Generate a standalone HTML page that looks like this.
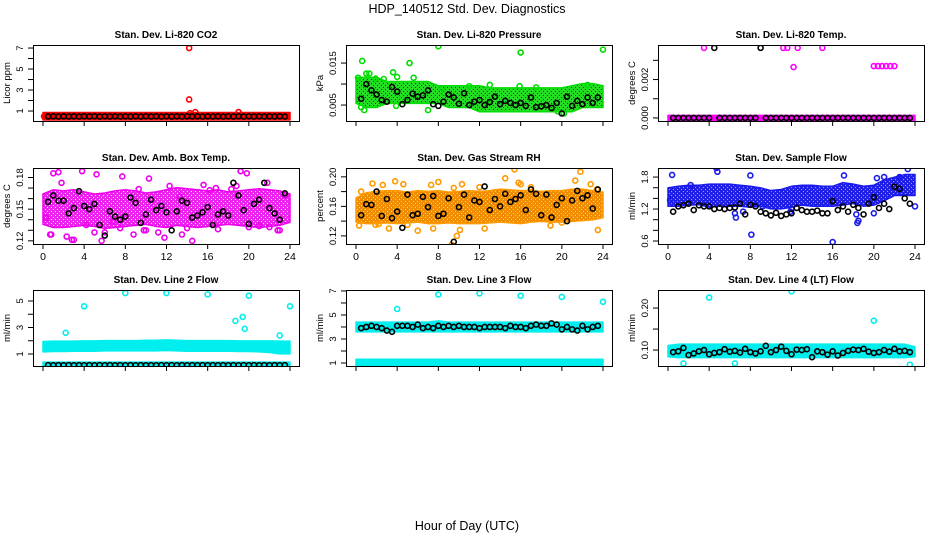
<!DOCTYPE html>
<html><head><meta charset="utf-8"><style>
body{margin:0;background:#fff;}
svg{display:block;font-family:"Liberation Sans",sans-serif;}
</style></head><body>
<svg id="chart" width="936" height="540" viewBox="0 0 936 540" xmlns="http://www.w3.org/2000/svg">
<rect width="936" height="540" fill="#fff"/>
<text x="467" y="13" text-anchor="middle" font-size="12.5">HDP_140512  Std. Dev. Diagnostics</text>
<text x="467" y="530" text-anchor="middle" font-size="12.5">Hour of Day (UTC)</text>
</svg>
<script>
// ---- shared categories ----
const envHours = [0,1,2,3,4,5,6,7,8,9,10,11,12,13,14,15,16,17,18,19,20,21,22,23,24];
const blackHours = [0.5,1,1.5,2,2.5,3,3.5,4,4.5,5,5.5,6,6.5,7,7.5,8,8.5,9,9.5,10,10.5,11,11.5,12,12.5,13,13.5,14,14.5,15,15.5,16,16.5,17,17.5,18,18.5,19,19.5,20,20.5,21,21.5,22,22.5,23,23.5];
const xTicks = [0,4,8,12,16,20,24];

// ---- P1 CO2 ----
const p1Lo = [0.38,0.38,0.38,0.38,0.38,0.38,0.38,0.38,0.38,0.38,0.38,0.38,0.38,0.38,0.38,0.38,0.38,0.38,0.38,0.38,0.38,0.38,0.38,0.38,0.38];
const p1Hi = [0.62,0.62,0.62,0.62,0.62,0.62,0.62,0.62,0.62,0.62,0.62,0.62,0.62,0.62,0.62,0.62,0.62,0.62,0.62,0.62,0.62,0.62,0.62,0.62,0.62];
const p1OutX = [14.2,14.2,14.3,14.8,19.0,0.1];
const p1OutY = [7.0,2.1,0.8,0.9,0.9,0.5];
const p1Black = [0.48,0.5,0.47,0.5,0.48,0.5,0.47,0.5,0.48,0.5,0.47,0.5,0.48,0.5,0.47,0.5,0.48,0.5,0.47,0.5,0.48,0.5,0.47,0.5,0.48,0.5,0.47,0.5,0.48,0.5,0.47,0.5,0.48,0.5,0.47,0.5,0.48,0.5,0.47,0.5,0.48,0.5,0.47,0.5,0.48,0.5,0.47];

// ---- P2 Pressure ----
const p2Lo = [0.006,0.005,0.005,0.006,0.006,0.006,0.006,0.006,0.006,0.005,0.005,0.005,0.004,0.004,0.004,0.004,0.004,0.004,0.004,0.004,0.004,0.004,0.005,0.005,0.005];
const p2Hi = [0.011,0.011,0.011,0.010,0.010,0.010,0.010,0.010,0.009,0.009,0.009,0.009,0.009,0.0085,0.0085,0.0085,0.0085,0.0085,0.0085,0.0085,0.0085,0.009,0.0095,0.0095,0.009];
const p2OutX = [0.2,0.6,1.0,1.3,0.8,3.6,4.0,5.2,5.6,8.0,16.0,24.0,15.9,22.5,0.5,7.0,8.4,3.9,20.2,19.6,1.9,2.7,11.0,13.0,17.5];
const p2OutY = [0.0115,0.0155,0.0125,0.0125,0.0038,0.0128,0.0117,0.015,0.0115,0.019,0.0175,0.0182,0.0095,0.0098,0.0045,0.0038,0.009,0.0048,0.003,0.0035,0.0113,0.0112,0.0095,0.0098,0.0092];
const p2Black = [0.0065,0.010,0.0085,0.0075,0.0062,0.0058,0.0093,0.0082,0.0052,0.0062,0.0077,0.0070,0.0073,0.0085,0.0052,0.0048,0.0058,0.0075,0.0068,0.0053,0.0078,0.0050,0.0058,0.0062,0.0050,0.0057,0.0070,0.0052,0.0060,0.0055,0.0050,0.0055,0.0048,0.0068,0.0045,0.0047,0.0050,0.0043,0.0055,0.0030,0.0070,0.0048,0.0060,0.0052,0.0068,0.0055,0.0068];

// ---- P3 Li-820 Temp ----
const p3Lo = [0,0,0,0,0,0,0,0,0,0,0,0,0,0,0,0,0,0,0,0,0,0,0,0,0];
const p3Hi = [0,0,0,0,0,0,0,0,0,0,0,0,0,0,0,0,0,0,0,0,0,0,0,0,0];
const p3OutX = [3.5,11.2,11.6,12.6,15.0,12.2,20.0,20.4,20.8,21.2,21.6,22.0];
const p3OutY = [0.00365,0.00365,0.00365,0.00365,0.00365,0.00265,0.0027,0.0027,0.0027,0.0027,0.0027,0.0027];
const p3Black = [0,0,0,0,0,0,0,0,0.00365,0,0,0,0,0,0,0,0,0.00365,0,0,0,0,0,0,0,0,0,0,0,0,0,0,0,0,0,0,0,0,0,0,0,0,0,0,0,0,0];

// ---- P4 Amb Box Temp ----
const p4Lo = [0.138,0.135,0.135,0.136,0.137,0.136,0.134,0.135,0.136,0.137,0.138,0.136,0.135,0.137,0.136,0.135,0.136,0.137,0.138,0.137,0.136,0.135,0.136,0.137,0.140];
const p4Hi = [0.162,0.166,0.165,0.166,0.164,0.162,0.163,0.165,0.166,0.165,0.163,0.164,0.166,0.168,0.167,0.166,0.165,0.166,0.164,0.165,0.166,0.167,0.166,0.165,0.162];
const p4OutX = [0.8,1.0,1.5,3.8,5.2,7.7,9.3,10.3,11.8,15.4,15.6,19.2,19.8,0.7,2.3,4.2,5.0,5.7,6.0,7.5,9.8,10.0,12.3,14.0,14.5,16.2,18.3,20.0,21.0,22.0,23.0,2.8,3.0,6.8,8.8,11.2,13.5,17.0,21.8,22.8,0.3,1.8,13.3,16.8,18.8,23.5];
const p4OutY = [0.126,0.184,0.185,0.186,0.183,0.181,0.169,0.179,0.123,0.191,0.173,0.186,0.184,0.126,0.124,0.135,0.128,0.120,0.128,0.132,0.130,0.130,0.172,0.132,0.120,0.168,0.169,0.133,0.134,0.133,0.130,0.121,0.121,0.138,0.126,0.128,0.126,0.131,0.175,0.130,0.142,0.175,0.162,0.170,0.172,0.163];
const p4Black = [0.157,0.163,0.158,0.158,0.146,0.151,0.167,0.153,0.150,0.155,0.135,0.125,0.148,0.143,0.140,0.143,0.161,0.156,0.137,0.145,0.159,0.149,0.153,0.147,0.130,0.148,0.158,0.156,0.142,0.144,0.147,0.152,0.135,0.145,0.148,0.144,0.175,0.163,0.149,0.136,0.155,0.159,0.175,0.151,0.146,0.140,0.165];

// ---- P5 Gas Stream RH ----
const p5Lo = [0.142,0.140,0.140,0.141,0.140,0.141,0.142,0.140,0.140,0.141,0.140,0.140,0.140,0.141,0.142,0.141,0.140,0.142,0.143,0.142,0.142,0.143,0.144,0.145,0.148];
const p5Hi = [0.168,0.175,0.177,0.178,0.178,0.176,0.178,0.177,0.178,0.176,0.177,0.178,0.177,0.178,0.180,0.179,0.178,0.178,0.177,0.178,0.178,0.180,0.180,0.178,0.176];
const p5OutX = [0.3,1.6,2.6,3.8,4.6,7.3,8.0,9.3,9.5,10.3,12.0,14.5,15.4,15.8,21.8,21.3,22.8,23.5,0.5,1.9,3.2,6.0,7.5,10.1,12.5,16.0,18.9,20.0,23.4,2.2,17.0,9.8,5.0];
const p5OutY = [0.134,0.191,0.189,0.194,0.190,0.189,0.193,0.108,0.185,0.190,0.186,0.198,0.210,0.192,0.207,0.195,0.190,0.128,0.180,0.135,0.130,0.127,0.130,0.128,0.130,0.190,0.134,0.138,0.183,0.136,0.186,0.120,0.135];
const p5Black = [0.148,0.163,0.162,0.180,0.147,0.170,0.144,0.153,0.131,0.176,0.148,0.150,0.173,0.159,0.174,0.147,0.150,0.171,0.112,0.159,0.176,0.145,0.168,0.166,0.187,0.155,0.170,0.160,0.177,0.166,0.170,0.175,0.155,0.183,0.177,0.148,0.176,0.145,0.162,0.171,0.140,0.168,0.181,0.171,0.175,0.157,0.183];

// ---- P6 Sample Flow ----
const p6Lo = [1.30,1.30,1.32,1.33,1.28,1.30,1.30,1.30,1.28,1.30,1.25,1.25,1.28,1.32,1.30,1.30,1.30,1.32,1.35,1.30,1.32,1.40,1.50,1.50,1.50];
const p6Hi = [1.55,1.58,1.60,1.60,1.62,1.62,1.62,1.60,1.58,1.55,1.50,1.52,1.58,1.60,1.60,1.58,1.58,1.65,1.62,1.58,1.60,1.70,1.75,1.80,1.80];
const p6OutX = [0.4,4.7,4.8,8.0,8.1,6.6,6.5,7.3,16.0,17.1,18.3,18.5,18.4,23.3,24.0,21.0,22.5,0.2,2.2,11.9,12.0,20.3,20.0,9.2];
const p6OutY = [1.84,1.97,1.90,1.83,0.72,1.04,1.12,1.15,0.58,1.83,1.10,0.98,0.94,1.95,1.25,1.80,1.80,1.37,1.65,1.15,1.20,1.78,1.12,1.25];
const p6Black = [1.15,1.25,1.27,1.30,1.18,1.27,1.25,1.25,1.20,1.22,1.20,1.22,1.23,1.30,1.10,1.28,1.25,1.15,1.12,1.08,1.13,1.07,1.10,1.12,1.22,1.18,1.15,1.15,1.17,1.12,1.12,1.35,1.18,1.25,1.15,1.28,1.22,1.10,1.30,1.42,1.22,1.30,1.20,1.62,1.58,1.40,1.30];

// ---- P7 Line 2 Flow ----
const p7Lo = [1.35,1.38,1.38,1.40,1.40,1.40,1.42,1.42,1.42,1.42,1.42,1.42,1.45,1.42,1.40,1.40,1.40,1.40,1.40,1.38,1.38,1.35,1.30,1.20,1.20];
const p7Hi = [1.75,1.78,1.78,1.78,1.80,1.80,1.82,1.82,1.82,1.82,1.85,1.85,1.88,1.85,1.82,1.82,1.82,1.82,1.82,1.80,1.80,1.80,1.80,1.78,1.78];
const p7Lo2 = [0.12,0.12,0.12,0.12,0.12,0.12,0.12,0.12,0.12,0.12,0.12,0.12,0.12,0.12,0.12,0.12,0.12,0.12,0.12,0.12,0.12,0.12,0.12,0.12,0.12];
const p7Hi2 = [0.2,0.2,0.2,0.2,0.2,0.2,0.2,0.2,0.2,0.2,0.2,0.2,0.2,0.2,0.2,0.2,0.2,0.2,0.2,0.2,0.2,0.2,0.2,0.2,0.2];
const p7OutX = [2.2,4.0,8.0,12.0,16.0,20.0,18.7,19.4,19.6,23.0,24.0];
const p7OutY = [2.6,4.6,5.6,5.6,5.5,5.4,3.5,3.8,2.9,2.4,4.6];
const p7Black = [0.16,0.15,0.16,0.15,0.16,0.15,0.16,0.15,0.16,0.15,0.16,0.15,0.16,0.15,0.16,0.15,0.16,0.15,0.16,0.15,0.16,0.15,0.16,0.15,0.16,0.15,0.16,0.15,0.16,0.15,0.16,0.15,0.16,0.15,0.16,0.15,0.16,0.15,0.16,0.15,0.16,0.15,0.16,0.15,0.16,0.15,0.16];

// ---- P8 Line 3 Flow ----
const p8Lo = [3.8,3.8,3.8,3.8,3.8,3.8,3.8,3.8,3.8,3.8,3.8,3.8,3.8,3.8,3.8,3.8,3.8,3.8,3.8,3.8,3.8,3.8,3.8,3.8,3.8];
const p8Hi = [4.2,4.2,4.2,4.2,4.2,4.2,4.2,4.2,4.3,4.2,4.2,4.2,4.2,4.2,4.2,4.2,4.2,4.2,4.2,4.2,4.2,4.2,4.2,4.2,4.2];
const p8Lo2 = [0.95,0.95,0.95,0.95,0.95,0.95,0.95,0.95,0.95,0.95,0.95,0.95,0.95,0.95,0.95,0.95,0.95,0.95,0.95,0.95,0.95,0.95,0.95,0.95,0.95];
const p8Hi2 = [1.1,1.1,1.1,1.1,1.1,1.1,1.1,1.1,1.1,1.1,1.1,1.1,1.1,1.1,1.1,1.1,1.1,1.1,1.1,1.1,1.1,1.1,1.1,1.1,1.1];
const p8OutX = [4.0,8.0,12.0,16.0,20.0,24.0];
const p8OutY = [5.5,6.7,6.8,6.6,6.5,6.1];
const p8Black = [3.9,4.0,4.1,4.0,3.9,3.7,3.6,4.1,4.1,4.1,4.0,4.2,3.9,4.0,3.9,4.1,4.0,4.1,4.0,4.1,4.0,4.0,4.0,3.9,4.0,4.0,4.0,4.0,3.9,4.1,4.0,4.0,3.9,4.1,4.2,4.1,4.1,4.3,4.2,3.8,4.0,3.8,3.7,4.1,3.8,4.0,4.1];

// ---- P9 Line 4 (LT) Flow ----
const p9Lo = [0.090,0.088,0.088,0.088,0.088,0.088,0.088,0.088,0.088,0.088,0.088,0.088,0.088,0.088,0.088,0.088,0.088,0.088,0.088,0.088,0.088,0.088,0.088,0.088,0.090];
const p9Hi = [0.105,0.108,0.108,0.108,0.108,0.108,0.108,0.108,0.108,0.108,0.108,0.108,0.108,0.108,0.108,0.108,0.108,0.108,0.108,0.108,0.108,0.108,0.108,0.108,0.102];
const p9OutX = [4.0,12.0,20.0,1.5,6.5,23.5];
const p9OutY = [0.225,0.24,0.17,0.068,0.068,0.065];
const p9Black = [0.095,0.097,0.105,0.088,0.092,0.097,0.100,0.090,0.093,0.095,0.102,0.096,0.098,0.094,0.103,0.095,0.092,0.097,0.110,0.095,0.100,0.108,0.098,0.090,0.101,0.100,0.102,0.083,0.097,0.095,0.089,0.097,0.087,0.093,0.098,0.101,0.100,0.103,0.096,0.093,0.095,0.100,0.096,0.103,0.097,0.098,0.095];

const panels = [
 {name:'co2',title:'Stan. Dev. Li-820 CO2',ylab:'Licor ppm',dom:[0.05,7.29],ticks:[1,2,3,4,5,6,7],labels:['1','','3','','5','','7'],color:'#ff0000',dot:'#ff0000',bg:'#ff0000',bands:[[p1Lo,p1Hi]],ox:p1OutX,oy:p1OutY,black:p1Black,xl:false},
 {name:'pressure',title:'Stan. Dev. Li-820 Pressure',ylab:'kPa',dom:[0.0012,0.0193],ticks:[0.005,0.010,0.015],labels:['0.005','','0.015'],color:'#00dd00',dot:'#064006',bg:'#22dd22',bands:[[p2Lo,p2Hi]],ox:p2OutX,oy:p2OutY,black:p2Black,xl:false},
 {name:'li820-temp',title:'Stan. Dev. Li-820 Temp.',ylab:'degrees C',dom:[-0.00016,0.0038],ticks:[0,0.001,0.002,0.003],labels:['0.000','','0.002',''],color:'#ff00ff',dot:'#ff00ff',bg:'#ff00ff',bands:[[p3Lo,p3Hi]],ox:p3OutX,oy:p3OutY,black:p3Black,xl:false},
 {name:'amb-box-temp',title:'Stan. Dev. Amb. Box Temp.',ylab:'degrees C',dom:[0.117,0.189],ticks:[0.12,0.13,0.14,0.15,0.16,0.17,0.18],labels:['0.12','','','0.15','','','0.18'],color:'#ee00ee',dot:'#ffffff',bg:'#ee22ee',bands:[[p4Lo,p4Hi]],ox:p4OutX,oy:p4OutY,black:p4Black,xl:true},
 {name:'gas-rh',title:'Stan. Dev. Gas Stream RH',ylab:'percent',dom:[0.109,0.212],ticks:[0.12,0.14,0.16,0.18,0.20],labels:['0.12','','0.16','','0.20'],color:'#ff9900',dot:'#ffee00',bg:'#f08c00',bands:[[p5Lo,p5Hi]],ox:p5OutX,oy:p5OutY,black:p5Black,xl:true},
 {name:'sample-flow',title:'Stan. Dev. Sample Flow',ylab:'ml/min',dom:[0.544,1.97],ticks:[0.6,0.8,1.0,1.2,1.4,1.6,1.8],labels:['0.6','','','1.2','','','1.8'],color:'#1a1aee',dot:'#9999ff',bg:'#2020e8',bands:[[p6Lo,p6Hi]],ox:p6OutX,oy:p6OutY,black:p6Black,xl:true},
 {name:'line2-flow',title:'Stan. Dev. Line 2 Flow',ylab:'ml/min',dom:[0.094,5.83],ticks:[1,2,3,4,5],labels:['1','','3','','5'],color:'#00eeee',dot:'#00eeee',bg:'#00eeee',bands:[[p7Lo,p7Hi],[p7Lo2,p7Hi2]],ox:p7OutX,oy:p7OutY,black:p7Black,xl:false},
 {name:'line3-flow',title:'Stan. Dev. Line 3 Flow',ylab:'ml/min',dom:[0.75,7.08],ticks:[1,2,3,4,5,6,7],labels:['1','','3','','5','','7'],color:'#00eeee',dot:'#00eeee',bg:'#00eeee',bands:[[p8Lo,p8Hi],[p8Lo2,p8Hi2]],ox:p8OutX,oy:p8OutY,black:p8Black,xl:false},
 {name:'line4-flow',title:'Stan. Dev. Line 4 (LT) Flow',ylab:'ml/min',dom:[0.062,0.243],ticks:[0.10,0.15,0.20],labels:['0.10','','0.20'],color:'#00eeee',dot:'#00eeee',bg:'#00eeee',bands:[[p9Lo,p9Hi]],ox:p9OutX,oy:p9OutY,black:p9Black,xl:false}
];

const NS='http://www.w3.org/2000/svg';
const svg=document.getElementById('chart');
const defs=document.createElementNS(NS,'defs'); svg.appendChild(defs);
const colLeft=[33,346,658], rowTop=[45,168,290], W=266, H=76;
function mk(tag,attrs,parent){const e=document.createElementNS(NS,tag);for(const k in attrs)e.setAttribute(k,attrs[k]);(parent||svg).appendChild(e);return e;}

panels.forEach((p,i)=>{
  const L=colLeft[i%3], T=rowTop[Math.floor(i/3)];
  const pat=mk('pattern',{id:'pat'+i,width:4,height:4,patternUnits:'userSpaceOnUse'},defs);
  mk('rect',{width:4,height:4,fill:p.bg},pat);
  mk('rect',{x:1,y:1,width:1,height:1,fill:p.dot},pat);
  mk('rect',{x:3,y:3,width:1,height:1,fill:p.dot},pat);
  const g=mk('g',{});
  
  
  const xs=h=>L+10+h*(247/24);
  const ys=v=>T+H-(v-p.dom[0])/(p.dom[1]-p.dom[0])*H;
  const clip='clip'+i;
  const cp=mk('clipPath',{id:clip},g); mk('rect',{x:L,y:T,width:W,height:H},cp);
  const plot=mk('g',{'clip-path':'url(#'+clip+')'},g);
  p.bands.forEach((b)=>{
    const lo=b[0], hi=b[1]; const n=Math.min(envHours.length,lo.length,hi.length);
    let pts=[];
    for(let k=0;k<n;k++)pts.push(xs(envHours[k])+','+(ys(hi[k])-2.5));
    for(let k=n-1;k>=0;k--)pts.push(xs(envHours[k])+','+(ys(lo[k])+2.5));
    const poly=mk('polygon',{points:pts.join(' '),fill:'url(#pat'+i+')',stroke:p.color,'stroke-width':1.5,'stroke-linejoin':'round'},plot);
    
    
  });
  const no=Math.min(p.ox.length,p.oy.length);
  for(let k=0;k<no;k++){
    const c=mk('circle',{cx:xs(p.ox[k]),cy:ys(p.oy[k]),r:2.5,fill:'none',stroke:p.color,'stroke-width':1.6},plot);
    
    
  }
  const nb=Math.min(blackHours.length,p.black.length);
  for(let k=0;k<nb;k++){
    const c=mk('circle',{cx:xs(blackHours[k]),cy:ys(p.black[k]),r:2.5,fill:'none',stroke:'#000','stroke-width':1.6},plot);
    
    
  }
  const box=mk('rect',{x:L+0.5,y:T+0.5,width:W,height:H,fill:'none',stroke:'#000','stroke-width':1},g);
  
  
  xTicks.forEach(t=>{
    mk('line',{x1:xs(t),x2:xs(t),y1:T+H,y2:T+H+5,stroke:'#000'},g);
    if(p.xl){const tx=mk('text',{x:xs(t),y:T+H+16,'text-anchor':'middle','font-size':10.5},g);tx.textContent=t;
      
      }
  });
  p.ticks.forEach((t,k)=>{
    const y=ys(t);
    mk('line',{x1:L,x2:L-5,y1:y,y2:y,stroke:'#000'},g);
    if(p.labels[k]){const tx=mk('text',{x:L-10,y:y,'text-anchor':'middle','font-size':9.5,transform:'rotate(-90 '+(L-10)+' '+y+')'},g);tx.textContent=p.labels[k];
      
      }
  });
  const yl=mk('text',{x:L-23,y:T+H/2,'text-anchor':'middle','font-size':9.5,transform:'rotate(-90 '+(L-23)+' '+(T+H/2)+')'},g);
  yl.textContent=p.ylab;
  
  
  const tt=mk('text',{x:L+W/2,y:T-7,'text-anchor':'middle','font-size':10,'font-weight':'bold'},g);
  tt.textContent=p.title;
  
  
});
</script>
</body></html>
